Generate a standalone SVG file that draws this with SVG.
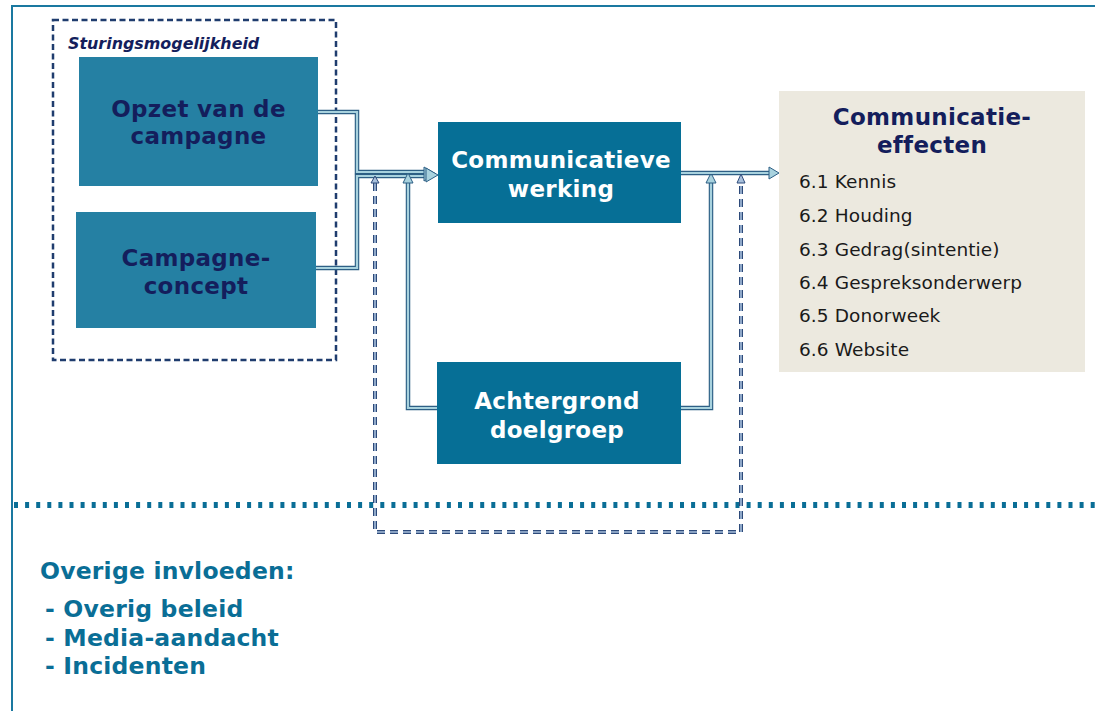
<svg xmlns="http://www.w3.org/2000/svg" width="1095" height="711" viewBox="0 0 1095 711">
<style>
  .frame{fill:none;stroke:#1a78a0;stroke-width:2}
  .dbox{fill:none;stroke:#1f3c6e;stroke-width:2.5;stroke-dasharray:6 3.5}
  .b1{fill:#2580a3}
  .b2{fill:#066f96}
  .t-navy{font-family:"DejaVu Sans",Verdana,sans-serif;font-weight:bold;fill:#141e5c;text-anchor:middle;font-size:23px;letter-spacing:0.3px}
  .t-white{font-family:"DejaVu Sans",Verdana,sans-serif;font-weight:bold;fill:#ffffff;text-anchor:middle;font-size:23px;letter-spacing:0.3px}
  .item{font-family:"DejaVu Sans",Verdana,sans-serif;fill:#1a1a1a;font-size:18.5px;letter-spacing:0.1px}
  .teal{font-family:"DejaVu Sans",Verdana,sans-serif;font-weight:bold;fill:#0a6e96;font-size:23.5px;letter-spacing:0.2px}
  .po{fill:none;stroke:#2d5f85;stroke-width:4.5}
  .pi{fill:none;stroke:#a8d2de;stroke-width:2.2}
  .dpo{fill:none;stroke:#2d4a7a;stroke-width:4;stroke-dasharray:8 5}
  .dpi{fill:none;stroke:#a8c0dc;stroke-width:1.6;stroke-dasharray:8 5}
  .ah{fill:#a8d2de;stroke:#2d5f85;stroke-width:1}
  .ahd{fill:#a8c0dc;stroke:#2d4a7a;stroke-width:1}
</style>
<rect width="1095" height="711" fill="#ffffff"/>
<path class="frame" d="M12,711 V6 H1095"/>
<line x1="14" y1="505" x2="1095" y2="505" stroke="#0a6e96" stroke-width="6" stroke-dasharray="4 7.1"/>

<g id="sturing">
  <rect class="dbox" x="53" y="20" width="283" height="340"/>
  <text x="68" y="49" font-family="DejaVu Sans,Verdana,sans-serif" font-weight="bold" font-style="italic" font-size="15.9" fill="#141e5c">Sturingsmogelijkheid</text>
</g>

<g id="connectors">
  <path class="po" d="M306,112 H357 V172 H428"/>
  <path class="pi" d="M306,112 H357 V172 H428"/>
  <path class="po" d="M310,268 H357 V176 H428"/>
  <path class="pi" d="M310,268 H357 V176 H428"/>
  <polygon class="ah" points="424,167 424,181 436,174"/>
  <polygon class="ah" points="426,168 426,182 438,175"/>
  <path class="po" d="M437,408 H408 V183"/>
  <path class="pi" d="M437,408 H408 V183"/>
  <polygon class="ah" points="403,183 413,183 408,173"/>
  <path class="po" d="M681,408 H711 V183"/>
  <path class="pi" d="M681,408 H711 V183"/>
  <polygon class="ah" points="706,183 716,183 711,173"/>
  <path class="po" d="M681,173 H770"/>
  <path class="pi" d="M681,173 H770"/>
  <polygon class="ah" points="769,167 769,179 779,173"/>
  <path class="dpo" d="M375,183 V532 H741 V183"/>
  <path class="dpi" d="M375,183 V532 H741 V183"/>
  <polygon class="ahd" points="371,183 379,183 375,176"/>
  <polygon class="ahd" points="737,183 745,183 741,174"/>
</g>

<g id="opzet">
  <rect class="b1" x="79" y="57" width="239" height="129"/>
  <text class="t-navy" x="198.5" y="117">Opzet van de</text>
  <text class="t-navy" x="198.5" y="144">campagne</text>
</g>

<g id="concept">
  <rect class="b1" x="76" y="212" width="240" height="116"/>
  <text class="t-navy" x="196" y="266">Campagne-</text>
  <text class="t-navy" x="196" y="294">concept</text>
</g>

<g id="werking">
  <rect class="b2" x="438" y="122" width="243" height="101"/>
  <text class="t-white" x="561" y="168">Communicatieve</text>
  <text class="t-white" x="561" y="197">werking</text>
</g>

<g id="achtergrond">
  <rect class="b2" x="437" y="362" width="244" height="102"/>
  <text class="t-white" x="557" y="409">Achtergrond</text>
  <text class="t-white" x="557" y="438">doelgroep</text>
</g>

<g id="effecten">
  <rect x="779" y="91" width="306" height="281" fill="#ece9df"/>
  <text class="t-navy" x="932" y="125">Communicatie-</text>
  <text class="t-navy" x="932" y="153">effecten</text>
  <text class="item" x="799" y="188">6.1 Kennis</text>
  <text class="item" x="799" y="222">6.2 Houding</text>
  <text class="item" x="799" y="256">6.3 Gedrag(sintentie)</text>
  <text class="item" x="799" y="289">6.4 Gespreksonderwerp</text>
  <text class="item" x="799" y="322">6.5 Donorweek</text>
  <text class="item" x="799" y="356">6.6 Website</text>
</g>

<g id="overige">
  <text class="teal" x="40" y="579">Overige invloeden:</text>
  <text class="teal" x="45" y="617">- Overig beleid</text>
  <text class="teal" x="45" y="646">- Media-aandacht</text>
  <text class="teal" x="45" y="674">- Incidenten</text>
</g>
</svg>
